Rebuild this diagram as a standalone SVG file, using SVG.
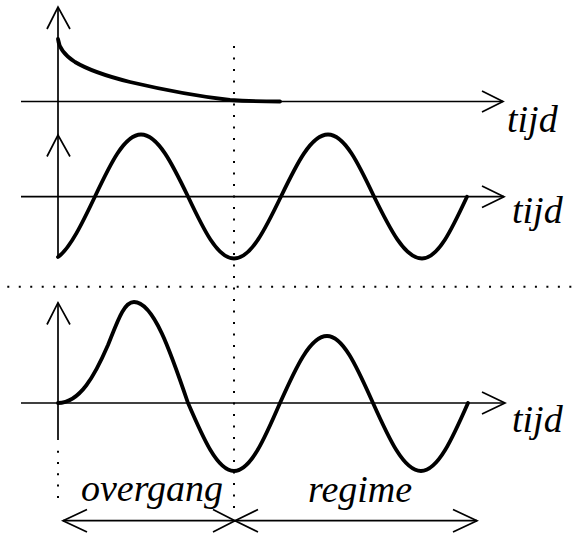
<svg xmlns="http://www.w3.org/2000/svg" width="576" height="533" viewBox="0 0 576 533">
<style>
.ax{fill:none;stroke:#000;stroke-width:1.7;stroke-linecap:butt;stroke-linejoin:miter}
.cv{fill:none;stroke:#000;stroke-width:3.8;stroke-linecap:round;stroke-linejoin:round}
.dot{fill:none;stroke:#000;stroke-width:2}
text{font-family:'Liberation Serif','Times New Roman',Times,'DejaVu Serif',serif;font-style:italic;font-size:38px;fill:#000}
</style>
<rect width="576" height="533" fill="#fff"/>
<g id="guides">
<line class="dot" x1="7.3" y1="286.7" x2="572" y2="286.7" stroke-dasharray="2 9.47"/>
<line class="dot" x1="234" y1="46" x2="234" y2="508" stroke-dasharray="2 9.5"/>
<line class="dot" x1="58" y1="450.7" x2="58" y2="498" stroke-dasharray="2 9.3"/>
</g>
<g id="panel-top">
<line class="ax" x1="58" y1="7" x2="58" y2="258"/>
<polyline class="ax" points="47,29 58,7 70,29"/>
<line class="ax" x1="21" y1="101.5" x2="503" y2="101.5"/>
<polyline class="ax" points="482,91 503,101.5 482,112"/>
<path class="cv" d="M58,39 C59,48 64,55 75,62 C90,71 110,77 130,82 C160,89 195,96 230,100 C250,101.5 265,101.5 280,101.5"/>
<text x="507" y="132">tijd</text>
</g>
<g id="panel-middle">
<polyline class="ax" points="47,156.5 58,135 70,156.5"/>
<line class="ax" x1="21" y1="196.7" x2="504" y2="196.7"/>
<polyline class="ax" points="482,186 504,196.7 482,207.5"/>
<path class="cv" d="M58,257 C70,248.8 83,221.7 95,196.5 C110,164.8 124.3,134.5 141,134.5 C158,134.5 172.7,164.8 188,196.5 C203,228.2 217.3,258.5 234,258.5 C251,258.5 265.7,228.2 281,196.5 C296.3,164.8 311,134.5 328,134.5 C344.7,134.5 359,164.8 374,196.5 C389.6,228.2 404.6,258.5 422,258.5 C438.3,258.5 452.3,228.2 467,196.7"/>
<text x="512" y="223">tijd</text>
</g>
<g id="panel-bottom">
<line class="ax" x1="58" y1="302.7" x2="58" y2="440"/>
<polyline class="ax" points="47,324.5 58,302.7 70,324.5"/>
<line class="ax" x1="21" y1="403" x2="505" y2="403"/>
<polyline class="ax" points="482,392 505,403 482,414"/>
<path class="cv" d="M58,403 C80,403 95,375 108,345 C118,320 124,302 134,302 C153.5,302 170.4,351.3 188,403 C203,437.8 217.3,471 234,471 C250.7,471 265,437.8 280,403 C295.3,368.7 310,336 327,336 C343.7,336 358,369.7 373,403 C388.6,437.8 403.6,471 421,471 C438,471 452.7,437.8 468,403"/>
<text x="512" y="432">tijd</text>
</g>
<g id="connectors">
<line class="ax" x1="63" y1="520.7" x2="477" y2="520.7"/>
<polyline class="ax" points="87,509.5 63,520.7 87,532"/>
<polyline class="ax" points="213,509.5 235,520.7 213,532"/>
<polyline class="ax" points="258,509.5 235,520.7 258,532"/>
<polyline class="ax" points="453,509.5 477,520.7 453,532"/>
</g>
<g id="labels">
<text x="81" y="501">overgang</text>
<text x="308" y="502">regime</text>
</g>
</svg>
